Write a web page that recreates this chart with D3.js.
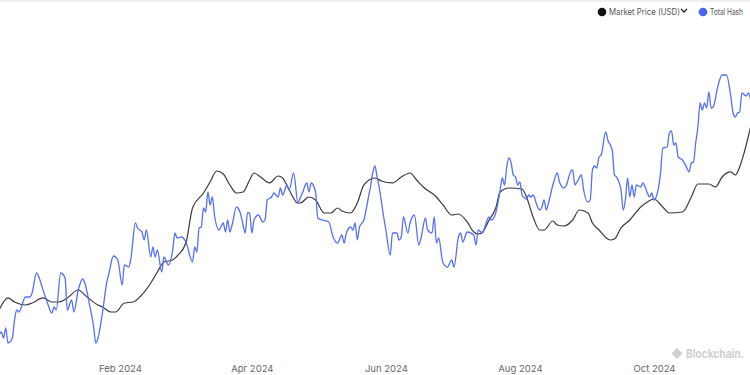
<!DOCTYPE html>
<html><head><meta charset="utf-8">
<script src="https://cdn.jsdelivr.net/npm/d3@7"></script>
<style>
html,body{margin:0;padding:0;background:#fff;overflow:hidden;}
svg{display:block;font-family:Inter, "Noto Sans", sans-serif;}
</style></head>
<body><svg id="c" width="750" height="375"></svg>
<script>
const hashDates = ["2023-12-08","2023-12-09","2023-12-10","2023-12-11","2023-12-12","2023-12-14","2023-12-15","2023-12-16","2023-12-17","2023-12-20","2023-12-22","2023-12-23","2023-12-25","2023-12-27","2023-12-28","2023-12-30",
"2024-01-01","2024-01-02","2024-01-03","2024-01-05","2024-01-07","2024-01-08","2024-01-10","2024-01-11","2024-01-13","2024-01-15","2024-01-16","2024-01-18","2024-01-20","2024-01-21","2024-01-22","2024-01-24","2024-01-26","2024-01-27","2024-01-29","2024-01-31",
"2024-02-02","2024-02-03","2024-02-05","2024-02-06","2024-02-08","2024-02-09","2024-02-11","2024-02-12","2024-02-13","2024-02-15","2024-02-16","2024-02-17","2024-02-18","2024-02-20","2024-02-21","2024-02-23","2024-02-25","2024-02-26","2024-02-27","2024-02-29",
"2024-03-02","2024-03-05","2024-03-06","2024-03-07","2024-03-08","2024-03-09","2024-03-10","2024-03-11","2024-03-12","2024-03-13","2024-03-14","2024-03-15","2024-03-17","2024-03-19","2024-03-20","2024-03-21","2024-03-22","2024-03-23","2024-03-25","2024-03-27","2024-03-28","2024-03-29","2024-03-30","2024-03-31",
"2024-04-01","2024-04-02","2024-04-04","2024-04-06","2024-04-07","2024-04-08","2024-04-10","2024-04-11","2024-04-13","2024-04-14","2024-04-15","2024-04-17","2024-04-18","2024-04-20","2024-04-22","2024-04-23","2024-04-24","2024-04-26","2024-04-27","2024-04-28","2024-04-30",
"2024-05-01","2024-05-03","2024-05-06","2024-05-08","2024-05-10","2024-05-12","2024-05-13","2024-05-14","2024-05-16","2024-05-17","2024-05-18","2024-05-19","2024-05-20","2024-05-22","2024-05-24","2024-05-25","2024-05-26","2024-05-27","2024-05-28","2024-05-29","2024-05-31",
"2024-06-01","2024-06-03","2024-06-04","2024-06-06","2024-06-07","2024-06-08","2024-06-09","2024-06-11","2024-06-12","2024-06-14","2024-06-16","2024-06-17","2024-06-19","2024-06-20","2024-06-22","2024-06-23","2024-06-24","2024-06-25","2024-06-27","2024-06-29",
"2024-07-01","2024-07-02","2024-07-04","2024-07-05","2024-07-06","2024-07-08","2024-07-11","2024-07-12","2024-07-13","2024-07-15","2024-07-16","2024-07-18","2024-07-19","2024-07-21","2024-07-22","2024-07-23","2024-07-24","2024-07-25","2024-07-26","2024-07-27","2024-07-28","2024-07-29","2024-07-30","2024-07-31",
"2024-08-01","2024-08-02","2024-08-04","2024-08-05","2024-08-06","2024-08-07","2024-08-09","2024-08-10","2024-08-11","2024-08-12","2024-08-13","2024-08-14","2024-08-16","2024-08-18","2024-08-19","2024-08-21","2024-08-22","2024-08-24","2024-08-25","2024-08-26","2024-08-27","2024-08-29","2024-08-30",
"2024-09-01","2024-09-02","2024-09-03","2024-09-04","2024-09-05","2024-09-06","2024-09-07","2024-09-09","2024-09-10","2024-09-12","2024-09-13","2024-09-14","2024-09-16","2024-09-17","2024-09-18","2024-09-19","2024-09-20","2024-09-21","2024-09-22","2024-09-23","2024-09-25","2024-09-26","2024-09-28","2024-09-29","2024-09-30",
"2024-10-01","2024-10-02","2024-10-04","2024-10-05","2024-10-07","2024-10-08","2024-10-09","2024-10-10","2024-10-11","2024-10-12","2024-10-14","2024-10-16","2024-10-17","2024-10-18","2024-10-19","2024-10-20","2024-10-21","2024-10-22","2024-10-23","2024-10-24","2024-10-25","2024-10-26","2024-10-27","2024-10-28","2024-10-30",
"2024-11-01","2024-11-03","2024-11-05","2024-11-06","2024-11-07","2024-11-08","2024-11-09","2024-11-10","2024-11-12","2024-11-13","2024-11-14"];
const hashValues = [510,513,507,517,502,507,525,535,533,548,548,552,572,562,555,542,
532,538,535,572,567,535,545,533,555,566,562,542,518,502,507,532,563,572,589,585,
560,580,578,587,622,617,613,605,615,588,598,588,595,573,588,580,595,612,607,608,
603,583,598,593,617,618,637,633,653,640,648,630,615,622,613,625,613,620,638,630,620,612,632,632,
612,625,630,623,625,645,648,652,648,657,650,660,655,672,642,647,652,662,653,662,653,
627,625,623,608,602,610,602,612,618,615,622,605,618,625,647,658,672,679,668,657,628,
615,590,612,612,605,608,628,612,622,630,600,607,627,615,612,628,602,607,582,578,
585,578,608,612,603,613,610,600,615,612,618,628,625,632,642,655,667,660,678,687,682,670,668,660,
663,650,646,650,648,650,638,635,638,645,635,642,660,672,663,657,659,673,675,660,663,670,655,
643,645,675,679,677,688,690,713,705,695,670,668,655,635,645,667,648,660,648,660,658,662,652,648,652,
645,648,672,697,698,712,714,700,702,688,685,677,673,682,683,702,718,742,735,742,737,753,737,738,758,
770,770,748,732,728,732,733,752,749,752,745];

const priceDates = ["2023-12-08","2023-12-12","2023-12-15","2023-12-20","2023-12-23","2023-12-28",
"2024-01-01","2024-01-04","2024-01-08","2024-01-13","2024-01-17","2024-01-22","2024-01-24","2024-01-28","2024-01-30",
"2024-02-03","2024-02-07","2024-02-10","2024-02-15","2024-02-18","2024-02-21","2024-02-25","2024-02-27",
"2024-03-02","2024-03-05","2024-03-10","2024-03-13","2024-03-16","2024-03-19","2024-03-22","2024-03-25","2024-03-28","2024-03-31",
"2024-04-02","2024-04-05","2024-04-09","2024-04-13","2024-04-15","2024-04-18","2024-04-22","2024-04-23","2024-04-27","2024-04-30",
"2024-05-04","2024-05-07","2024-05-10","2024-05-12","2024-05-16","2024-05-19","2024-05-22","2024-05-27","2024-05-30",
"2024-06-04","2024-06-08","2024-06-12","2024-06-15","2024-06-18","2024-06-24","2024-06-27",
"2024-07-01","2024-07-04","2024-07-08","2024-07-11","2024-07-13","2024-07-15","2024-07-18","2024-07-21","2024-07-23","2024-07-27",
"2024-08-02","2024-08-04","2024-08-07","2024-08-10","2024-08-12","2024-08-16","2024-08-18","2024-08-21","2024-08-25","2024-08-28",
"2024-09-01","2024-09-03","2024-09-06","2024-09-11","2024-09-13","2024-09-16","2024-09-20","2024-09-25","2024-09-28",
"2024-10-01","2024-10-05","2024-10-08","2024-10-14","2024-10-18","2024-10-21","2024-10-26","2024-10-29",
"2024-11-01","2024-11-05","2024-11-07","2024-11-09","2024-11-11","2024-11-14"];
const priceValues = [41670,43930,43170,42610,42980,43930,
43170,43170,43930,45430,44110,42610,42230,41290,41290,
42980,43170,44110,46750,48820,50700,51080,51830,
54280,60860,63680,65750,67820,67260,65190,63680,63870,66130,
67450,66690,65570,66880,66510,64250,61800,61800,62930,62370,
59920,59920,60860,60300,59920,61800,65190,66510,65940,
65570,66690,67450,66130,64810,62930,61430,
59540,59730,58230,56350,55970,56350,58600,60860,63870,64620,
64440,62930,59170,56720,56720,58410,57660,57470,58600,60480,
59920,58040,56720,54840,55030,57100,58600,61050,61990,
62550,61050,59920,60110,62930,65380,65380,64810,
66690,67640,67070,68580,71210,76100];

const tickLabels = ["2024-02-01","2024-04-01","2024-06-01","2024-08-01","2024-10-01"];
const seriesNames = ["Market Price (USD)", "Total Hash"];

const W = 750, H = 375;
const parse = d3.utcParse("%Y-%m-%d");
const svg = d3.select("#c");

const x = d3.scaleUtc()
  .domain([new Date(Date.UTC(2023,11,8,9,22)), new Date(Date.UTC(2024,10,13,17,0))])
  .range([0, W]);
const yPrice = d3.scaleLinear().domain([30000, 100000]).range([372, 0]);
const yHash = d3.scaleLinear().domain([470, 845]).range([375, 0]);

// top border
svg.append("line").attr("x1",0).attr("x2",W).attr("y1",1).attr("y2",1)
  .attr("stroke","#efefef").attr("stroke-width",2);

svg.append("clipPath").attr("id","clip").append("rect")
  .attr("x",0).attr("y",0).attr("width",W).attr("height",H);

const g = svg.append("g").attr("clip-path","url(#clip)");

const hashData = hashDates.map((d,i)=>({date:parse(d), v:hashValues[i]}));
const priceData = priceDates.map((d,i)=>({date:parse(d), v:priceValues[i]}));

g.append("path").datum(priceData)
  .attr("fill","none").attr("stroke","#3a3a3a").attr("stroke-width",1.2)
  .attr("d", d3.line().x(d=>x(d.date)).y(d=>yPrice(d.v)).curve(d3.curveMonotoneX));

g.append("path").datum(hashData)
  .attr("fill","none").attr("stroke","#5470f4").attr("stroke-width",1.3)
  .attr("stroke-linejoin","round")
  .attr("d", d3.line().x(d=>x(d.date)).y(d=>yHash(d.v)).curve(d3.curveMonotoneX));

// x axis
const axis = d3.axisBottom(x)
  .tickValues(tickLabels.map(parse))
  .tickFormat(d3.utcFormat("%b %Y"))
  .tickSize(0).tickPadding(0);
const ag = svg.append("g").attr("transform","translate(0,364)").call(axis);
ag.select(".domain").remove();
ag.selectAll("text").attr("fill","#666").attr("font-size","9.5px")
  .attr("font-family","Inter, 'Noto Sans', sans-serif").attr("dy","8px");

// legend
const lg = svg.append("g");
lg.append("circle").attr("cx",602).attr("cy",12).attr("r",4.3).attr("fill","#111");
lg.append("text").attr("x",609).attr("y",15).text(seriesNames[0])
  .attr("font-size","8.5px").attr("fill","#555")
  .attr("textLength",71).attr("lengthAdjust","spacingAndGlyphs");
lg.append("path").attr("d","M681,9 L684,12 L687,9").attr("fill","none")
  .attr("stroke","#222").attr("stroke-width",1.3);
lg.append("circle").attr("cx",703).attr("cy",12).attr("r",4.3).attr("fill","#4a63ef");
lg.append("text").attr("x",710).attr("y",15).text(seriesNames[1])
  .attr("font-size","8.5px").attr("fill","#555")
  .attr("textLength",33).attr("lengthAdjust","spacingAndGlyphs");

// watermark
const wm = svg.append("g").attr("fill","#cfcfcf");
wm.append("path").attr("d","M677,348 L682.5,353.5 L677,359 L671.5,353.5 Z");
wm.append("text").attr("x",686).attr("y",358).text("Blockchain.")
  .attr("font-size","11.5px").attr("font-weight","bold")
  .attr("textLength",58).attr("lengthAdjust","spacingAndGlyphs");
</script>
</body></html>
